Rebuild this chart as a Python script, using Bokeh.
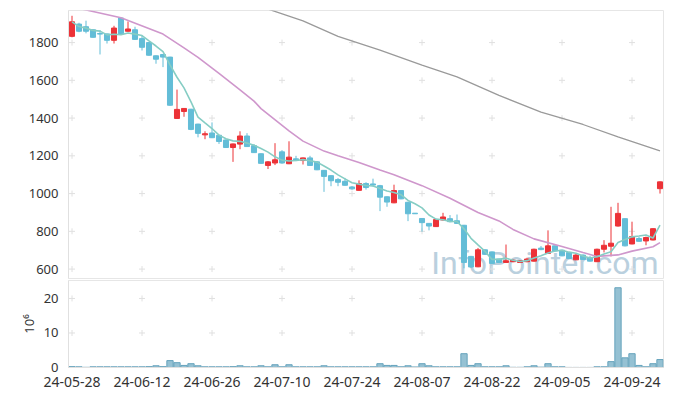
import numpy as np
import pandas as pd
from bokeh.plotting import figure
from bokeh.layouts import column
from bokeh.models import ColumnDataSource, FixedTicker, Range1d, Label
from bokeh.embed import file_html
from bokeh.resources import INLINE
from bokeh.core.properties import value

# ---------------- data ----------------
opens = [1833, 1898, 1884, 1868, 1848, 1846, 1812, 1930, 1860, 1868,
         1821, 1800, 1730, 1737, 1723, 1398, 1435, 1447, 1368, 1311,
         1321, 1309, 1284, 1244, 1262, 1305, 1254, 1211, 1149, 1162,
         1221, 1158, 1184, 1175, 1189, 1168, 1123, 1095, 1074, 1065,
         1035, 1017, 1053, 1051, 1042, 983, 951, 1016, 954, 896,
         868, 842, 825, 860, 867, 856, 832, 667, 612, 702,
         691, 653, 635, 639, 635, 639, 642, 711, 683, 723,
         700, 688, 649, 674, 660, 639, 705, 721, 828, 867,
         733, 762, 749, 754, 1026]
highs = [1942, 1905, 1916, 1870, 1866, 1848, 1889, 1932, 1912, 1884,
         1837, 1803, 1732, 1740, 1725, 1551, 1453, 1449, 1370, 1330,
         1377, 1311, 1286, 1265, 1330, 1320, 1262, 1213, 1172, 1267,
         1230, 1277, 1200, 1191, 1200, 1172, 1125, 1097, 1082, 1083,
         1040, 1070, 1060, 1079, 1046, 985, 1047, 1018, 956, 897,
         870, 844, 864, 898, 886, 889, 834, 670, 712, 704,
         693, 655, 730, 651, 648, 660, 708, 722, 805, 725,
         702, 690, 680, 678, 670, 708, 753, 930, 951, 869,
         851, 770, 772, 816, 1064]
lows = [1828, 1855, 1849, 1826, 1737, 1795, 1795, 1844, 1858, 1814,
        1758, 1730, 1688, 1670, 1465, 1396, 1407, 1336, 1298, 1288,
        1294, 1263, 1242, 1168, 1235, 1247, 1215, 1158, 1130, 1151,
        1158, 1156, 1172, 1154, 1147, 1124, 1009, 1039, 1039, 1042,
        1020, 1015, 1021, 1037, 907, 930, 949, 970, 854, 892,
        798, 805, 823, 857, 848, 840, 604, 606, 610, 675,
        628, 632, 633, 636, 632, 636, 640, 700, 681, 694,
        668, 654, 647, 649, 640, 637, 688, 667, 825, 720,
        731, 745, 726, 752, 1000]
closes = [1910, 1860, 1860, 1828, 1845, 1812, 1877, 1846, 1872, 1817,
          1775, 1733, 1712, 1723, 1468, 1446, 1451, 1340, 1319, 1317,
          1296, 1276, 1244, 1263, 1305, 1249, 1217, 1160, 1168, 1179,
          1162, 1193, 1176, 1189, 1149, 1126, 1091, 1068, 1060, 1044,
          1025, 1053, 1032, 1045, 981, 955, 1016, 972, 893, 893,
          846, 828, 862, 876, 851, 842, 635, 611, 702, 678,
          630, 635, 644, 647, 644, 653, 705, 703, 723, 696,
          670, 656, 674, 651, 642, 705, 726, 737, 895, 723,
          772, 747, 767, 814, 1062]
volumes = [0.25, 0.2, 0.05, 0.2, 0.2, 0.2, 0.2, 0.2, 0.2, 0.2,
           0.2, 0.25, 0.5, 0.25, 2.0, 1.4, 0.6, 1.1, 0.5, 0.2,
           0.2, 0.2, 0.2, 0.25, 0.5, 0.2, 0.2, 0.5, 0.2, 0.8,
           0.2, 0.8, 0.2, 0.2, 0.2, 0.2, 0.5, 0.2, 0.2, 0.2,
           0.2, 0.2, 0.2, 0.2, 1.1, 0.6, 0.6, 0.2, 0.5, 0.15,
           1.1, 0.5, 0.2, 0.2, 0.2, 0.2, 4.0, 0.6, 1.1, 0.2,
           0.2, 0.2, 0.5, 0.05, 0.05, 0.2, 0.5, 0.1, 1.1, 0.2,
           0.2, 0.02, 0.02, 0.02, 0.02, 0.2, 0.2, 1.7, 23.1, 2.8,
           4.0, 0.6, 0.2, 1.1, 2.3]

# 20-day and 60-day averages (they depend on earlier, unseen days)
ma20_idx = [0, 3, 7, 13, 16, 18, 21, 24, 26, 27, 31, 33, 36, 38, 41, 44, 46, 50,
            54, 58, 61, 63, 66, 70, 73, 75, 78, 80, 83, 84]
ma20_val = [1989, 1965, 1932, 1845, 1772, 1722, 1637, 1550, 1490, 1450, 1332, 1278,
            1225, 1200, 1165, 1125, 1100, 1042, 975, 900, 855, 810, 760, 720, 688,
            667, 675, 695, 718, 740]
ma60_idx = [27, 33, 38, 44, 50, 55, 61, 67, 73, 78, 84]
ma60_val = [1990, 1915, 1833, 1760, 1680, 1618, 1520, 1432, 1366, 1300, 1226]

tick_idx = [0, 10, 20, 30, 40, 50, 60, 70, 80]
tick_labels = ["24-05-28", "24-06-12", "24-06-26", "24-07-10", "24-07-24",
               "24-08-07", "24-08-22", "24-09-05", "24-09-24"]
price_ticks = [600, 800, 1000, 1200, 1400, 1600, 1800]
vol_ticks = [0, 10, 20]

# ---------------- derived ----------------
n = len(closes)
idx = list(range(n))
o = np.array(opens, float)
c = np.array(closes, float)
up = c >= o
RED = "#ec3237"
BLUE = "#63bdd7"
colors = [RED if u else BLUE for u in up]
ma5 = pd.Series(closes, dtype=float).rolling(5, min_periods=1).mean().tolist()

src = ColumnDataSource(dict(x=idx, h=highs, l=lows, top=np.maximum(o, c),
                            bottom=np.minimum(o, c), color=colors, vol=volumes))

FONT = "Noto Sans"
GRID = "#e0e0e0"

p = figure(width=665, height=279, x_range=Range1d(-0.5, 84.5), y_range=Range1d(550, 1970),
           output_backend="svg", toolbar_location=None,
           min_border_left=68, min_border_right=2, min_border_top=10, min_border_bottom=1)
p.xaxis.visible = False
p.grid.visible = False
p.outline_line_color = "#e6e6e6"
p.yaxis.ticker = FixedTicker(ticks=price_ticks)
p.yaxis.major_tick_line_color = None
p.yaxis.minor_tick_line_color = None
p.yaxis.axis_line_color = "#e0e0e0"
p.yaxis.major_label_text_font = FONT
p.yaxis.major_label_text_font_size = "13px"
p.yaxis.major_label_text_color = "#333333"
p.yaxis.major_label_standoff = 4

# grid crosses at tick intersections
gx, gy = np.meshgrid(tick_idx, price_ticks)
p.scatter(gx.ravel(), gy.ravel(), marker="cross", size=6, line_color=GRID, line_width=1)

# watermark
p.add_layout(Label(x=83.8, y=632, text="InfoPointer.com", text_align="right",
                   text_baseline="alphabetic", text_font="Roboto", text_font_size="32px",
                   text_color="#bad0de", level="underlay"))

p.segment(x0="x", y0="l", x1="x", y1="h", color="color", line_width=1, source=src)
p.vbar(x="x", top="top", bottom="bottom", width=0.72, fill_color="color",
       line_color="color", line_width=1, source=src)

p.line(ma60_idx, ma60_val, line_color="#9a9a9a", line_width=1.3)
p.line(ma20_idx, ma20_val, line_color="#cf97cc", line_width=1.6)
p.line(idx, ma5, line_color="#86cdc4", line_width=1.6)

v = figure(width=665, height=117, x_range=p.x_range, y_range=Range1d(0, 25.2),
           output_backend="svg", toolbar_location=None,
           min_border_left=68, min_border_right=2, min_border_top=1, min_border_bottom=29)
v.grid.visible = False
v.outline_line_color = "#e6e6e6"
gx2, gy2 = np.meshgrid(tick_idx, vol_ticks[1:])
v.scatter(gx2.ravel(), gy2.ravel(), marker="cross", size=6, line_color=GRID, line_width=1)
v.vbar(x="x", top="vol", bottom=0, width=0.9, fill_color="#8fbed1", fill_alpha=0.95,
       line_color="#65a3bc", line_width=1, source=src)

v.yaxis.ticker = FixedTicker(ticks=vol_ticks)
v.yaxis.major_tick_line_color = None
v.yaxis.minor_tick_line_color = None
v.yaxis.axis_line_color = "#e0e0e0"
v.yaxis.major_label_text_font = FONT
v.yaxis.major_label_text_font_size = "13px"
v.yaxis.major_label_text_color = "#333333"
v.yaxis.major_label_standoff = 4
v.yaxis.axis_label = "10⁶"
v.yaxis.axis_label_text_font = FONT
v.yaxis.axis_label_text_font_style = "normal"
v.yaxis.axis_label_text_font_size = "13px"
v.yaxis.axis_label_text_color = "#333333"
v.yaxis.axis_label_standoff = 3

v.xaxis.ticker = FixedTicker(ticks=tick_idx)
v.xaxis.major_label_overrides = {t: l for t, l in zip(tick_idx, tick_labels)}
v.xaxis.major_tick_line_color = None
v.xaxis.minor_tick_line_color = None
v.xaxis.axis_line_color = "#e0e0e0"
v.xaxis.major_label_text_font = FONT
v.xaxis.major_label_text_font_size = "14px"
v.xaxis.major_label_text_color = "#333333"
v.xaxis.major_label_standoff = 3

layout = column(p, v, spacing=0)
open("out.html", "w").write(file_html(layout, INLINE))
